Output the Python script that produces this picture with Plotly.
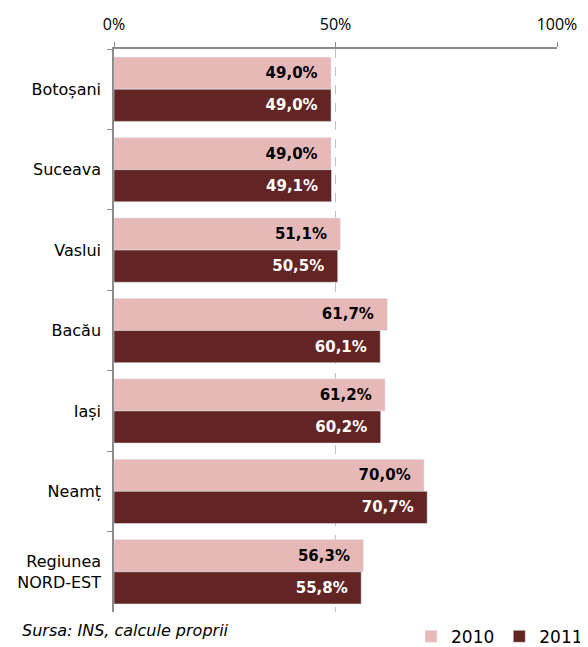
import plotly.graph_objects as go

categories = ["Botoșani", "Suceava", "Vaslui", "Bacău", "Iași", "Neamț", "Regiunea<br>NORD-EST"]
values_2010 = [49.0, 49.0, 51.1, 61.7, 61.2, 70.0, 56.3]
values_2011 = [49.0, 49.1, 50.5, 60.1, 60.2, 70.7, 55.8]
x_ticks = [0, 50, 100]
x_tick_labels = ["0%", "50%", "100%"]

def fmt(v):
    return f"{v:.1f}%".replace(".", ",") + "\u00a0\u00a0"

fig = go.Figure()
fig.add_trace(go.Bar(
    y=categories, x=values_2010, orientation="h", name="2010",
    marker=dict(color="#E6B9B8"),
    text=[fmt(v) for v in values_2010], textposition="inside", insidetextanchor="end",
    textfont=dict(color="black", size=15, family="DejaVu Sans", weight="bold"),
    constraintext="none", cliponaxis=False,
))
fig.add_trace(go.Bar(
    y=categories, x=values_2011, orientation="h", name="2011",
    marker=dict(color="#632523"),
    text=[fmt(v) for v in values_2011], textposition="inside", insidetextanchor="end",
    textfont=dict(color="white", size=15, family="DejaVu Sans", weight="bold"),
    constraintext="none", cliponaxis=False,
))

# page body has an 8px default margin, so the figure is sized to fit the window
fig.update_layout(
    width=580, height=639,
    margin=dict(l=106, r=31, t=41, b=35, autoexpand=False),
    barmode="group", bargap=0.2, bargroupgap=0,
    plot_bgcolor="white", paper_bgcolor="white",
    font=dict(family="Open Sans", size=15, color="black"),
    uniformtext=dict(minsize=15, mode="show"),
    xaxis=dict(
        side="top", range=[0, 100], tickvals=x_ticks, ticktext=x_tick_labels,
        showgrid=True, gridcolor="#BFBFBF", griddash="dash", gridwidth=1,
        showline=True, linecolor="#8C8C8C", linewidth=1.5,
        ticks="outside", ticklen=5, tickcolor="#8C8C8C",
        zeroline=False, tickfont=dict(size=16, family="Open Sans"),
        ticklabelstandoff=6, automargin=False,
    ),
    yaxis=dict(
        autorange="reversed", showline=True, linecolor="#8C8C8C", linewidth=1.5,
        ticks="outside", ticklen=5, tickcolor="#8C8C8C", tickson="boundaries",
        showgrid=False, tickfont=dict(size=16, family="DejaVu Sans"),
        ticklabelstandoff=8, automargin=False,
    ),
    legend=dict(
        orientation="h", xanchor="right", x=1.07, yanchor="top", y=-0.012,
        font=dict(size=17, family="DejaVu Sans"), traceorder="normal",
        itemwidth=30,
    ),
    annotations=[dict(
        text="<i>Sursa: INS, calcule proprii</i>", xref="paper", yref="paper",
        x=-0.212, y=-0.012, xanchor="left", yanchor="top", showarrow=False,
        font=dict(size=16, family="DejaVu Sans"),
    )],
)

fig.write_html("out.html")
